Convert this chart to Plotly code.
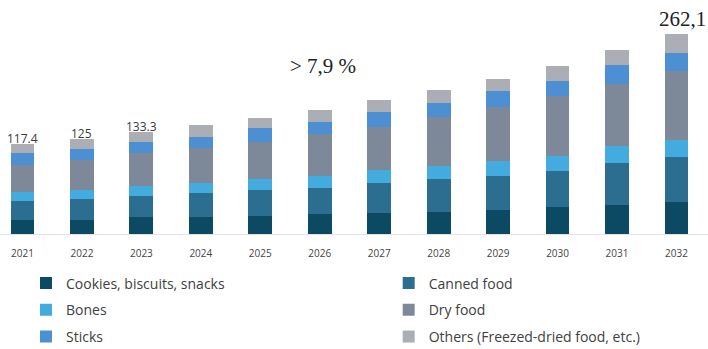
import plotly.graph_objects as go

years = ["2021", "2022", "2023", "2024", "2025", "2026",
         "2027", "2028", "2029", "2030", "2031", "2032"]

cookies = [18.0, 18.0, 21.9, 22.7, 24.0, 25.8, 27.1, 29.2, 31.5, 34.9, 38.4, 41.9]
canned = [25.0, 27.5, 28.0, 30.7, 33.7, 34.9, 39.3, 42.5, 45.0, 48.1, 54.7, 58.5]
bones = [12.2, 11.8, 13.1, 13.9, 14.4, 15.7, 17.4, 17.4, 19.7, 19.7, 21.8, 23.2]
dry = [35.0, 39.3, 43.2, 45.1, 48.9, 54.3, 56.7, 64.6, 69.9, 78.6, 81.8, 90.4]
sticks = [15.3, 14.4, 13.9, 15.2, 17.6, 16.5, 19.7, 18.3, 21.0, 19.7, 25.3, 23.2]
others = [11.9, 14.0, 13.2, 15.3, 13.1, 15.3, 15.3, 16.6, 16.3, 19.7, 19.7, 24.9]

# (name, values, colour, legend column)
series = [
    ("Cookies, biscuits, snacks", cookies, "#0c4a63", "legend"),
    ("Canned food", canned, "#2b6e90", "legend2"),
    ("Bones", bones, "#44abdf", "legend"),
    ("Dry food", dry, "#7d8899", "legend2"),
    ("Sticks", sticks, "#4c8fd2", "legend"),
    ("Others (Freezed-dried food, etc.)", others, "#abafb5", "legend2"),
]

totals = [round(sum(s[1][i] for s in series), 1) for i in range(len(years))]

fig = go.Figure()
for name, vals, col, leg in series:
    fig.add_trace(go.Bar(x=years, y=vals, name=name, marker_color=col,
                         marker_line_width=0, width=0.4,
                         legend=leg, legendgroup=name))

# value labels above the first three bars (x given as category index)
for i in range(3):
    fig.add_annotation(x=i, y=totals[i], text=f"{totals[i]:g}", showarrow=False,
                       yanchor="bottom", yshift=-5,
                       font=dict(family="Open Sans", size=12, color="#3a3a3a"))

# final total, with comma decimal
last = len(years) - 1
fig.add_annotation(x=last, y=totals[last],
                   text=f"{totals[last]:.1f}".replace(".", ","), showarrow=False,
                   yanchor="bottom", xshift=6, yshift=1,
                   font=dict(family="Liberation Serif", size=21, color="#222222"))

# growth rate
fig.add_annotation(x=5, y=220, text="> 7,9 %", showarrow=False, xshift=3,
                   font=dict(family="Liberation Serif", size=21, color="#222222"))

legend_style = dict(orientation="v", yanchor="top", xanchor="left",
                    traceorder="grouped", tracegroupgap=5.5,
                    bgcolor="rgba(0,0,0,0)",
                    font=dict(family="Open Sans", size=14, color="#404040"))

fig.update_layout(
    barmode="stack",
    width=708, height=349,
    margin=dict(l=0, r=0, t=5, b=115, autoexpand=False),
    paper_bgcolor="white", plot_bgcolor="white",
    font=dict(family="Open Sans", color="#404040"),
    showlegend=True,
    legend=dict(x=0.0367, y=-0.146, **legend_style),
    legend2=dict(x=0.549, y=-0.146, **legend_style),
)
fig.update_xaxes(type="category", range=[-0.378, 11.53], showgrid=False,
                 showline=True, linecolor="#e2e2e2", linewidth=1,
                 ticks="", ticklabelstandoff=10,
                 tickfont=dict(family="Open Sans", size=10, color="#444444"))
fig.update_yaxes(range=[0, 300], visible=False, showgrid=False, zeroline=False)

fig.write_html("out.html")
